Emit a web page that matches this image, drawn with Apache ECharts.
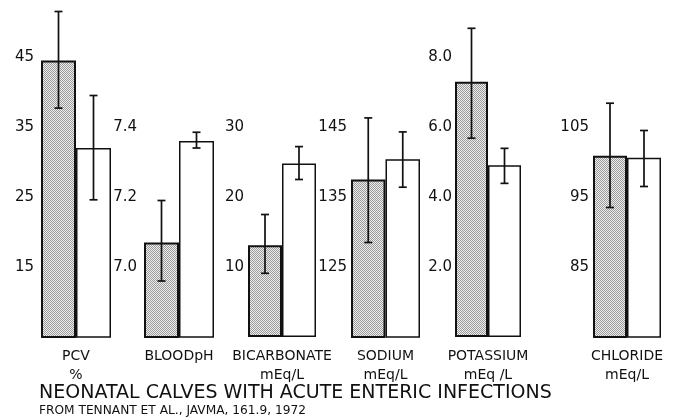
<!DOCTYPE html>
<html><head><meta charset="utf-8">
<script src="https://cdn.jsdelivr.net/npm/echarts@6/dist/echarts.min.js"></script>
<style>html,body{margin:0;padding:0;background:#fff}#c{width:673px;height:420px}</style>
</head><body><div id="c"></div><script>
// ---- data ----
const categories = ['PCV', 'BLOODpH', 'BICARBONATE', 'SODIUM', 'POTASSIUM', 'CHLORIDE'];
const units = ['%', '', 'mEq/L', 'mEq/L', 'mEq /L', 'mEq/L'];
const infectedMean = [44.5, 7.07, 13.1, 137.5, 7.29, 100.9];
const infectedLow  = [37.7, 6.96, 9.1, 128.5, 5.68, 93.5];
const infectedHigh = [51.5, 7.19, 17.5, 146.3, 8.82, 108.4];
const normalMean = [32.0, 7.36, 24.8, 140.4, 4.91, 100.6];
const normalLow  = [24.6, 7.34, 22.5, 136.4, 4.39, 96.5];
const normalHigh = [39.5, 7.385, 27.2, 144.3, 5.39, 104.5];
const axisMin = [5, 6.8, 0, 115, 0, 75];
const axisMax = [45, 7.6, 40, 155, 8, 115];
const tickValues = [[15, 25, 35, 45], [7.0, 7.2, 7.4], [10, 20, 30], [125, 135, 145], [2, 4, 6, 8], [85, 95, 105]];
const tickDecimals = [0, 1, 0, 0, 1, 0];
const titleText = 'NEONATAL CALVES WITH ACUTE ENTERIC INFECTIONS';
const subText = 'FROM TENNANT ET AL., JAVMA, 161.9, 1972';

// ---- layout / style ----
const gridLefts = [41, 144, 248, 351, 455, 593];
const gridWidths = [70, 70, 68, 69, 66, 68];
const labelMargins = [7, 7, 4, 4, 3, 4];
const FONT = 'DejaVu Sans';
const INK = '#111';

const pat = document.createElement('canvas');
pat.width = 2; pat.height = 2;
const ctx = pat.getContext('2d');
ctx.fillStyle = '#eeeeee'; ctx.fillRect(0, 0, 2, 2);
ctx.fillStyle = '#9a9a9a'; ctx.fillRect(0, 0, 1, 1); ctx.fillRect(1, 1, 1, 1);

function errRenderer(side) {
  return function (params, api) {
    const lo = api.coord([api.value(0), api.value(1)]);
    const hi = api.coord([api.value(0), api.value(2)]);
    const bw = api.size([1, 0])[0];
    const x = lo[0] + side * bw / 4;
    const cap = 4;
    const style = { stroke: INK, lineWidth: 1.7, fill: null };
    return { type: 'group', children: [
      { type: 'line', shape: { x1: x, y1: lo[1], x2: x, y2: hi[1] }, style: style },
      { type: 'line', shape: { x1: x - cap, y1: hi[1], x2: x + cap, y2: hi[1] }, style: style },
      { type: 'line', shape: { x1: x - cap, y1: lo[1], x2: x + cap, y2: lo[1] }, style: style }
    ]};
  };
}

const grid = [], xAxis = [], yAxis = [], series = [];
categories.forEach(function (cat, i) {
  grid.push({ left: gridLefts[i], width: gridWidths[i], top: 57, bottom: 83, containLabel: false });
  xAxis.push({
    type: 'category', gridIndex: i, data: [cat + (units[i] ? '\n' + units[i] : '\n ')],
    axisLine: { show: false }, axisTick: { show: false }, splitLine: { show: false },
    axisLabel: { interval: 0, margin: 10, fontSize: 14, lineHeight: 19, color: INK, fontFamily: FONT, hideOverlap: false }
  });
  yAxis.push({
    type: 'value', gridIndex: i, min: axisMin[i], max: axisMax[i],
    axisLine: { show: false }, axisTick: { show: false }, splitLine: { show: false },
    axisLabel: {
      customValues: tickValues[i], margin: labelMargins[i], fontSize: 15, color: INK, fontFamily: FONT,
      formatter: (function (d) { return function (v) { return Number(v).toFixed(d); }; })(tickDecimals[i])
    }
  });
  series.push({
    type: 'bar', xAxisIndex: i, yAxisIndex: i, data: [infectedMean[i]], barWidth: '50%', barGap: '0%',
    itemStyle: { color: { image: pat, repeat: 'repeat' }, borderColor: INK, borderWidth: 2 },
    emphasis: { disabled: true }, animation: false
  });
  series.push({
    type: 'bar', xAxisIndex: i, yAxisIndex: i, data: [normalMean[i]], barWidth: '50%', barGap: '0%',
    itemStyle: { color: '#fff', borderColor: INK, borderWidth: 1.5 },
    emphasis: { disabled: true }, animation: false
  });
  series.push({
    type: 'custom', xAxisIndex: i, yAxisIndex: i, renderItem: errRenderer(-1), z: 5,
    data: [[0, infectedLow[i], infectedHigh[i]]], encode: { x: 0, y: [1, 2] }, animation: false
  });
  series.push({
    type: 'custom', xAxisIndex: i, yAxisIndex: i, renderItem: errRenderer(1), z: 5,
    data: [[0, normalLow[i], normalHigh[i]]], encode: { x: 0, y: [1, 2] }, animation: false
  });
});

const chart = echarts.init(document.getElementById('c'), null, { renderer: 'canvas' });
chart.setOption({
  animation: false,
  backgroundColor: '#fff',
  title: {
    text: titleText, subtext: subText, left: 39, top: 383, itemGap: 1, padding: 0,
    textStyle: { fontSize: 19, fontWeight: 'normal', color: INK, fontFamily: FONT, lineHeight: 20 },
    subtextStyle: { fontSize: 12.2, color: INK, fontFamily: FONT, lineHeight: 13 }
  },
  grid: grid, xAxis: xAxis, yAxis: yAxis, series: series
});
</script></body></html>
